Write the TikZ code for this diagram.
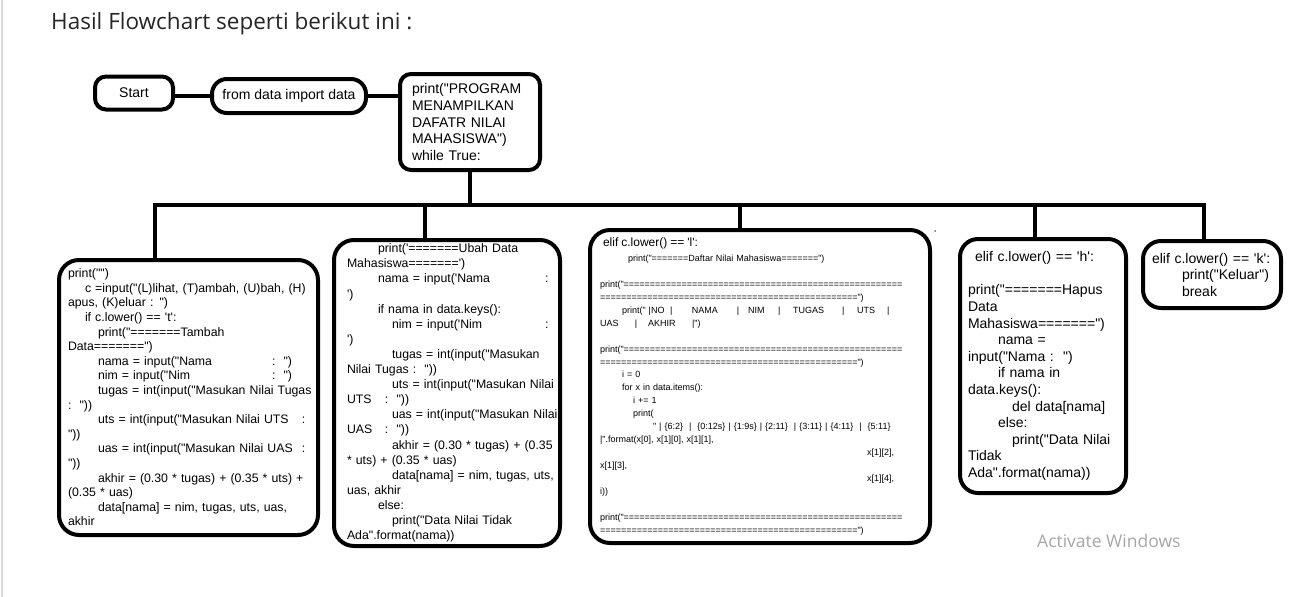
\documentclass[tikz,border=0pt]{standalone}
\usepackage{fontspec}
\setmainfont{Liberation Sans}[Ligatures=TeXOff]
\newfontfamily\titlefont{Open Sans}
\newcommand\sq{\textquotesingle}
\newcommand\codeat[2]{\makebox[0pt][l]{\hspace*{#1}#2}}
\newcommand\eqrun[1]{\foreach \k in {1,...,#1}{=}}
\begin{document}
\begin{tikzpicture}[x=1pt,y=-1pt,
  topbox/.style={draw,line width=4pt,rounded corners=11pt,
    font=\fontsize{14}{16.6}\selectfont},
  codebox/.style={draw,line width=4pt,rounded corners=20pt,
    align=left,inner ysep=0pt},
  link/.style={line width=4pt}]
  \useasboundingbox (0,0) rectangle (1302,597);
  \draw[black!15,line width=1.5pt] (2,0) -- (2,597);
  \node[anchor=base west,inner sep=0pt,text=black!85,
    font=\titlefont\fontsize{22.5}{26}\selectfont] (title) at (51,29)
    {Hasil Flowchart seperti berikut ini :};
  % baris atas
  \node[topbox,minimum width=78pt,minimum height=33pt] (start) at (134,93) {Start};
  \node[topbox,rounded corners=15pt,minimum width=154pt,minimum height=34pt]
    (import) at (289,96) {from data import data};
  \node[topbox,align=left,text width=116pt,inner xsep=12pt,minimum height=96pt]
    (header) at (470,122)
    {print("PROGRAM\\MENAMPILKAN\\DAFATR NILAI\\MAHASISWA")\\while True:};
  % titik cabang
  \foreach \name/\x in {j1/155,j2/425,j3/740,j4/1035,j5/1204}
    \coordinate (\name) at (\x,205);
  % menu
  \node[codebox,text width=241pt,inner xsep=9pt,minimum height=275pt,
    font=\fontsize{12.3}{14.6}\selectfont] (tambah) at (188.5,397.5)
    {print("")\\
     \hspace*{17pt}c =input("(L)lihat, (T)ambah, (U)bah, (H)\\
     apus, (K)eluar : ")\\
     \hspace*{17pt}if c.lower() == \sq{}t\sq{}:\\
     \hspace*{30pt}print("=======Tambah\\
     Data=======")\\
     \codeat{30pt}{nama = input("Nama}\codeat{204pt}{:\ \ ")}\\
     \codeat{30pt}{nim = input("Nim}\codeat{204pt}{:\ \ ")}\\
     \hspace*{30pt}\mbox{tugas = int(input("Masukan Nilai Tugas}\\
     :\ \ "))\\
     \codeat{30pt}{uts = int(input("Masukan Nilai UTS}\codeat{234pt}{:}\\
     "))\\
     \codeat{30pt}{uas = int(input("Masukan Nilai UAS}\codeat{234pt}{:}\\
     "))\\
     \hspace*{30pt}\mbox{akhir = (0.30 * tugas) + (0.35 * uts) +}\\
     (0.35 * uas)\\
     \hspace*{30pt}\mbox{data[nama] = nim, tugas, uts, uas,}\\
     akhir};
  \node[codebox,text width=200pt,inner xsep=13pt,minimum height=306pt,
    font=\fontsize{12.3}{15.1}\selectfont] (ubah) at (447,393)
    {\hspace*{31pt}print(\sq\eqrun{7}Ubah Data\\
     Mahasiswa\eqrun{7}\sq)\\
     \codeat{31pt}{nama = input(\sq{}Nama}\codeat{198pt}{:}\\
     \sq)\\
     \hspace*{31pt}if nama in data.keys():\\
     \codeat{45pt}{nim = input(\sq{}Nim}\codeat{198pt}{:}\\
     \sq)\\
     \hspace*{45pt}\mbox{tugas = int(input("Masukan}\\
     Nilai Tugas :\ \ "))\\
     \hspace*{45pt}\mbox{uts = int(input("Masukan Nilai}\\
     \codeat{0pt}{UTS}\codeat{38pt}{:\ \ "))}\\
     \hspace*{45pt}\mbox{uas = int(input("Masukan Nilai}\\
     \codeat{0pt}{UAS}\codeat{38pt}{:\ \ "))}\\
     \hspace*{45pt}\mbox{akhir = (0.30 * tugas) + (0.35}\\
     \mbox{*} uts) + (0.35 * uas)\\
     \hspace*{45pt}\mbox{data[nama] = nim, tugas, uts,}\\
     uas, akhir\\
     \hspace*{31pt}else:\\
     \hspace*{45pt}print("Data Nilai Tidak\\
     Ada".format(nama))};
  \node[codebox,text width=320pt,inner xsep=10pt,minimum height=313pt,
    font=\fontsize{9}{12.95}\selectfont] (lihat) at (760,386.5)
    {\hspace*{3pt}{\fontsize{12}{13}\selectfont elif c.lower() == \sq{}l\sq{}:}\\[2pt]
     \hspace*{28pt}print("\eqrun{7}Daftar Nilai Mahasiswa\eqrun{7}")\\
     ~\\
     print("\eqrun{53}\\
     \eqrun{49}")\\
     \codeat{22pt}{print(" |NO}\codeat{70pt}{|}\codeat{92pt}{NAMA}\codeat{137pt}{|}%
     \codeat{148pt}{NIM}\codeat{178pt}{|}\codeat{193pt}{TUGAS}\codeat{242pt}{|}%
     \codeat{257pt}{UTS}\codeat{287pt}{|}\\
     \codeat{0pt}{UAS}\codeat{35pt}{|}\codeat{48pt}{AKHIR}\codeat{92pt}{|")}\\
     ~\\
     print("\eqrun{53}\\
     \eqrun{49}")\\
     \hspace*{22pt}i = 0\\
     \hspace*{22pt}for x in data.items():\\
     \hspace*{33pt}i += 1\\
     \hspace*{33pt}print(\\
     \hspace*{53pt}" | \{6:2\}\ \ |\ \ \{0:12s\} | \{1:9s\} | \{2:11\}\ \ | \{3:11\} | \{4:11\}\ \ |\ \ \{5:11\}\\
     |".format(x[0], x[1][0], x[1][1],\\
     \codeat{267pt}{x[1][2],}\\
     x[1][3],\\
     \codeat{267pt}{x[1][4],}\\
     i))\\
     ~\\
     print("\eqrun{53}\\
     \eqrun{49}")};
  \node[codebox,rounded corners=18pt,text width=150pt,inner xsep=8pt,minimum height=254pt,
    font=\fontsize{14}{16.6}\selectfont] (hapus) at (1043,366)
    {\hspace*{7pt}elif c.lower() == \sq{}h\sq{}:\\
     ~\\
     print("\eqrun{7}Hapus\\
     Data\\
     Mahasiswa\eqrun{7}")\\
     \hspace*{30pt}nama =\\
     input("Nama :\ \ ")\\
     \hspace*{30pt}if nama in\\
     data.keys():\\
     \hspace*{44pt}del data[nama]\\
     \hspace*{30pt}else:\\
     \hspace*{44pt}print("Data Nilai\\
     Tidak\\
     Ada".format(nama))};
  \node[codebox,rounded corners=18pt,text width=120pt,inner xsep=9pt,minimum height=67pt,
    font=\fontsize{14}{16.5}\selectfont] (keluar) at (1212,274.5)
    {elif c.lower() == \sq{}k\sq{}:\\
     \hspace*{30pt}print("Keluar")\\
     \hspace*{30pt}break};
  % garis penghubung
  \draw[link] (start.east |- import) -- (import.west);
  \draw[link] (import.east) -- (import.east -| header.west);
  \draw[link] (header.south) -- (header.south |- j1);
  \draw[link] (j1 |- tambah.north) -- (j1) -- (j5) -- (j5 |- keluar.north);
  \foreach \j/\b in {j2/ubah,j3/lihat,j4/hapus}
    \draw[link] (\j) -- (\j |- \b.north);
  \fill[black!60] (935,231) circle (1pt);
  \node[anchor=base west,inner sep=0pt,text=black!35,
    font=\titlefont\fontsize{17.5}{20}\selectfont] (watermark) at (1037,547)
    {Activate Windows};
\end{tikzpicture}
\end{document}
